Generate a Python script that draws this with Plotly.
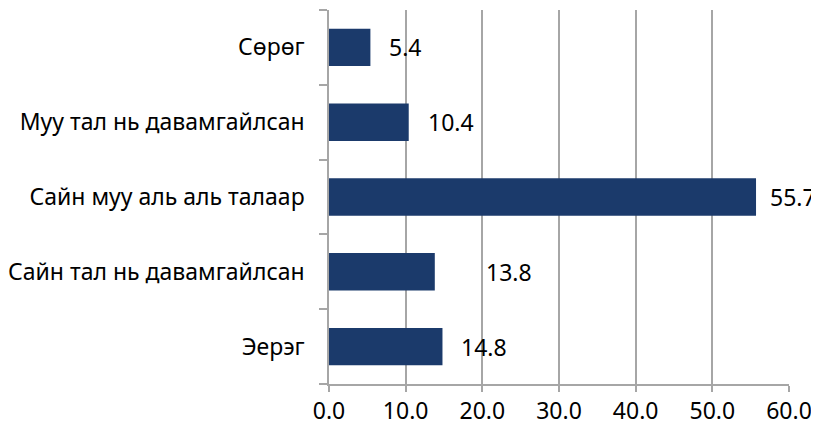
import plotly.graph_objects as go

# categories bottom -> top
categories = [
    "Эерэг",
    "Сайн тал нь давамгайлсан",
    "Сайн муу аль аль талаар",
    "Муу тал нь давамгайлсан",
    "Сөрөг",
]
values = [14.8, 13.8, 55.7, 10.4, 5.4]
x_ticks = [0, 10, 20, 30, 40, 50, 60]
x_tick_labels = ["0.0", "10.0", "20.0", "30.0", "40.0", "50.0", "60.0"]

bar_color = "#1b3a6b"
grid_color = "#a6a6a6"
font_family = "Noto Sans"
font_size = 23
label_shift = [17, 49, 12, 17, 17]

fig = go.Figure()
fig.add_trace(
    go.Bar(
        x=values,
        y=categories,
        orientation="h",
        marker={"color": bar_color, "line": {"width": 0}},
        width=0.5,
    )
)

for v, c, s in zip(values, categories, label_shift):
    fig.add_annotation(
        x=v,
        y=c,
        text=f"{v:.1f}",
        showarrow=False,
        xanchor="left",
        yanchor="middle",
        xshift=s,
        font={"size": font_size, "color": "#000000", "family": font_family},
    )

# the page body adds an 8px margin, so the figure is drawn 8px smaller
fig.update_layout(
    width=811,
    height=421,
    margin={"l": 321, "r": 30, "t": 2, "b": 45},
    plot_bgcolor="white",
    paper_bgcolor="white",
    showlegend=False,
    font={"family": font_family, "size": font_size, "color": "#000000"},
)
fig.update_xaxes(
    range=[0, 60],
    tickvals=x_ticks,
    ticktext=x_tick_labels,
    showgrid=True,
    gridcolor=grid_color,
    gridwidth=1.5,
    showline=True,
    linecolor=grid_color,
    linewidth=1.5,
    ticks="outside",
    ticklen=6,
    tickcolor=grid_color,
    tickwidth=1.5,
    zeroline=False,
    automargin=False,
)
fig.update_yaxes(
    type="category",
    categoryorder="array",
    categoryarray=categories,
    showgrid=False,
    showline=True,
    linecolor=grid_color,
    linewidth=1.5,
    ticks="outside",
    tickson="boundaries",
    ticklen=8,
    tickcolor=grid_color,
    tickwidth=1.5,
    ticklabelstandoff=18,
    automargin=False,
)

fig.write_html("out.html")
